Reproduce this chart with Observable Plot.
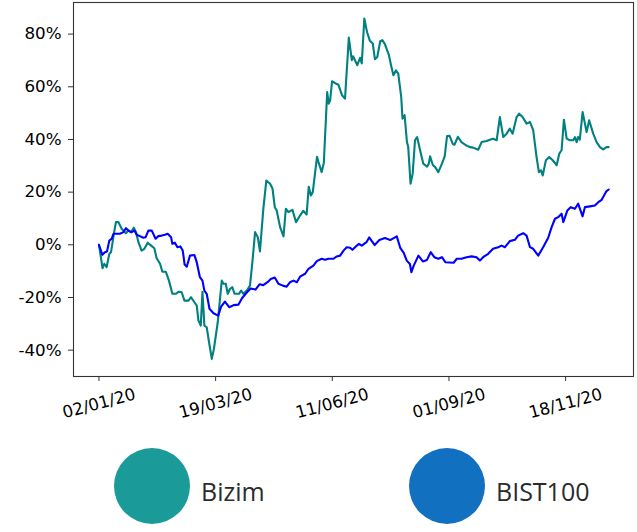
<!DOCTYPE html>
<html>
<head>
<meta charset="utf-8">
<script src="https://cdn.jsdelivr.net/npm/d3@7"></script>
<script src="https://cdn.jsdelivr.net/npm/@observablehq/plot@0.6"></script>
<style>
  html, body { margin: 0; padding: 0; background: #fff; }
  #wrap { width: 637px; }
  #legend { display: block; }
</style>
</head>
<body>
<div id="wrap"></div>
<script>
// Series names and colours
const seriesNames = ["Bizim", "BIST100"];
const lineColors = ["#008080", "#0000ff"];
const legendColors = ["#1a9a98", "#1170bf"];

// x tick positions (trading-day index) and their labels
const tickIndex = [0, 55, 110, 165, 220];
const tickLabels = ["02/01/20", "19/03/20", "11/06/20", "01/09/20", "18/11/20"];
const yTicks = [-40, -20, 0, 20, 40, 60, 80];

// [trading-day index, cumulative return %]
const bizim = [
  [0,0],[1.7,-8.9],[2.5,-7.2],[3.6,-8.5],[4.9,-3.4],[5.7,-2.8],[6.9,3.5],[8.0,8.6],[9.2,8.6],
  [10.7,6.1],[12.7,4.4],[13.9,5.4],[15.1,4.8],[16.4,6.5],[17.5,4.8],[18.6,1.0],[20.1,-2.2],
  [21.4,-1.5],[23.0,0.8],[24.9,-0.5],[26.1,-1.3],[27.2,-5.1],[28.8,-7.2],[29.9,-10.2],[31.5,-10.2],
  [33.0,-13.6],[34.6,-18.6],[36.2,-18.6],[37.7,-17.8],[39.0,-18.0],[40.3,-21.2],[42.2,-21.2],
  [43.4,-19.9],[45.0,-21.8],[46.1,-23.1],[46.9,-28.8],[48.0,-30.7],[48.8,-17.8],[49.7,-30.7],
  [50.8,-31.3],[51.9,-37.0],[53.2,-43.3],[54.2,-39.5],[56.0,-29.4],[57.9,-13.6],[58.7,-14.8],
  [59.8,-14.8],[60.7,-18.6],[61.8,-16.7],[62.9,-16.1],[63.9,-18.6],[66.0,-18.6],[67.0,-17.4],
  [68.1,-18.6],[69.7,-17.4],[71.2,-15.5],[72.4,-6.0],[73.6,4.8],[74.9,2.9],[75.9,-2.5],
  [77.5,13.7],[78.9,24.4],[80.7,23.2],[81.8,21.4],[82.9,14.3],[83.8,13.0],[85.4,6.7],[87.0,3.2],
  [88.1,13.7],[89.3,12.4],[91.2,13.3],[92.9,8.6],[94.8,11.1],[96.3,12.9],[97.9,11.5],[98.9,22.0],
  [99.9,18.7],[100.8,20.0],[102.8,33.4],[103.5,31.4],[105.0,27.6],[106.0,31.1],[107.6,58.0],
  [108.3,53.6],[109.0,54.9],[109.9,62.1],[111.9,61.1],[112.8,60.9],[114.6,56.8],[116.0,55.5],
  [117.8,78.7],[119.2,70.1],[119.8,71.6],[121.8,68.2],[123.1,71.0],[123.9,68.9],[125.1,85.9],
  [126.4,80.7],[127.7,77.5],[129.1,76.4],[130.1,70.5],[131.2,71.3],[132.6,77.3],[133.6,77.7],
  [134.8,76.2],[136.7,72.0],[137.7,68.2],[138.8,64.4],[140.0,66.2],[141.1,65.0],[142.5,56.1],
  [143.1,47.9],[144.1,49.2],[145.2,39.0],[145.8,37.1],[146.9,23.2],[147.9,27.0],[149.0,39.7],
  [150.0,40.9],[151.4,35.9],[152.9,30.8],[154.7,29.7],[155.5,30.8],[156.1,33.6],[157.4,30.3],
  [158.5,29.5],[160.0,27.6],[161.7,30.8],[163.0,33.6],[164.1,41.3],[165.3,41.4],[166.8,38.3],
  [167.6,38.0],[169.2,41.0],[170.9,39.0],[173.0,37.8],[174.9,37.1],[176.4,36.9],[178.8,36.1],
  [180.4,39.0],[182.7,39.4],[184.3,39.9],[185.8,40.3],[187.5,39.7],[189.0,48.5],[190.6,40.9],
  [192.2,42.2],[193.7,44.1],[195.0,42.2],[196.9,48.5],[198.1,49.8],[199.7,48.5],[201.6,46.0],
  [203.2,46.6],[204.7,43.5],[206.3,33.3],[207.4,27.6],[208.4,28.3],[209.2,26.3],[210.7,32.1],
  [212.3,33.3],[213.9,32.1],[215.8,30.2],[217.0,34.6],[218.1,35.9],[219.2,47.5],[220.5,40.3],
  [222.0,39.7],[223.6,39.7],[224.4,40.9],[225.2,39.0],[225.9,40.9],[226.7,39.9],[228.0,50.4],
  [229.9,42.8],[231.1,47.3],[233.0,42.2],[234.6,39.0],[236.2,37.1],[237.7,36.2],[239.3,37.1],
  [240.3,37.1]
];

const bist100 = [
  [0,0],[1.6,-3.8],[2.8,-2.8],[3.8,-2.5],[4.9,1.6],[6.0,2.3],[6.9,4.2],[8.3,4.2],[9.9,4.2],
  [11.5,4.8],[12.7,6.3],[14.2,5.2],[15.4,4.8],[16.7,5.4],[17.8,3.8],[19.3,3.3],[20.9,2.7],
  [22.0,2.9],[23.3,5.4],[24.9,5.4],[26.7,2.3],[28.0,3.3],[29.6,3.5],[31.1,3.8],[32.4,4.2],
  [34.0,2.9],[34.6,0.4],[35.8,0.8],[37.0,-0.9],[38.4,-0.6],[39.5,-2.2],[40.4,-7.5],[41.4,-8.3],
  [42.9,-4.1],[45.0,-3.9],[46.1,-6.6],[47.6,-12.3],[48.8,-13.6],[49.7,-17.4],[50.8,-18.6],
  [52.1,-24.3],[54.0,-26.0],[56.2,-26.9],[57.6,-23.5],[59.4,-21.6],[61.4,-23.7],[63.5,-22.9],
  [65.8,-22.7],[67.5,-20.2],[69.9,-17.9],[71.5,-16.6],[73.8,-17.0],[75.7,-15.0],[77.5,-15.3],
  [79.6,-14.1],[81.0,-13.0],[82.9,-12.4],[84.6,-14.8],[86.7,-15.5],[88.5,-15.9],[90.1,-14.2],
  [91.7,-13.6],[93.3,-14.2],[94.8,-12.1],[97.2,-11.0],[98.8,-9.1],[101.1,-7.9],[102.7,-6.2],
  [105.0,-5.3],[106.6,-5.7],[108.2,-5.3],[110.6,-5.3],[112.1,-4.4],[113.7,-4.1],[115.3,-2.2],
  [116.8,-0.9],[118.4,-1.1],[119.5,-1.9],[121.6,-0.3],[122.6,0.4],[123.9,-0.3],[126.1,1.0],
  [127.4,2.8],[128.9,1.1],[130.0,-0.1],[132.2,1.8],[134.8,2.6],[137.3,1.8],[140.4,3.2],
  [142.1,-1.3],[143.7,-3.1],[145.1,-6.0],[146.6,-7.3],[147.3,-10.4],[148.4,-7.9],[150.6,-4.1],
  [152.7,-6.3],[154.6,-5.8],[156.4,-2.8],[158.1,-4.7],[160.0,-5.3],[161.7,-4.7],[163.3,-6.6],
  [165.2,-6.7],[167.2,-6.8],[168.7,-5.3],[170.9,-5.3],[173.3,-4.7],[175.7,-4.4],[178.0,-4.7],
  [179.6,-6.0],[181.1,-4.7],[183.5,-3.4],[185.8,-1.5],[188.2,-0.9],[189.8,-0.3],[191.4,-0.9],
  [193.7,1.4],[196.1,1.9],[197.6,3.5],[200.0,4.4],[201.6,3.5],[203.2,-0.9],[204.7,-1.5],
  [207.1,-4.1],[209.4,-0.9],[211.8,2.7],[213.4,6.7],[215.0,9.9],[216.5,10.5],[218.1,11.8],
  [218.9,8.6],[220.8,13.0],[222.4,14.3],[224.4,13.7],[225.9,15.6],[228.0,10.8],[229.1,14.3],
  [231.5,14.6],[233.8,14.9],[235.4,16.2],[237.0,17.1],[238.1,18.7],[239.3,20.4],[240.3,21.0]
];

const font = "'DejaVu Sans', sans-serif";

const chart = Plot.plot({
  width: 637,
  height: 440,
  marginLeft: 73,
  marginRight: 4,
  marginTop: 2,
  marginBottom: 64,
  style: { fontFamily: font, fontSize: "16.7px", color: "black", background: "white", overflow: "visible" },
  x: { domain: [-12, 252] },
  y: { domain: [-50, 92] },
  marks: [
    Plot.line(bizim, { x: d => d[0], y: d => d[1], stroke: lineColors[0], strokeWidth: 2.1 }),
    Plot.line(bist100, { x: d => d[0], y: d => d[1], stroke: lineColors[1], strokeWidth: 2.1 }),
    Plot.frame({ stroke: "#333", strokeWidth: 1.1 }),
    Plot.axisY(yTicks, {
      tickFormat: d => d + "%", tickSize: 5, tickPadding: 7, label: null,
      fontSize: 16.7, fontFamily: font, stroke: "#333", fill: "black"
    }),
    Plot.axisX(tickIndex, { tickFormat: () => "", tickSize: 5, label: null, stroke: "#333" }),
    Plot.text(tickIndex, {
      x: d => d, text: (d, i) => tickLabels[i], frameAnchor: "bottom",
      dy: 27, rotate: -15, textAnchor: "middle", lineAnchor: "middle",
      fontSize: 16.7, fontFamily: font, fill: "black"
    })
  ]
});

const wrap = document.getElementById("wrap");
wrap.appendChild(chart);

// Legend below the chart
const legendX = [152, 447];
const legend = d3.create("svg")
  .attr("id", "legend")
  .attr("width", 637)
  .attr("height", 92);
seriesNames.forEach((name, i) => {
  legend.append("circle")
    .attr("cx", legendX[i]).attr("cy", 46).attr("r", 38)
    .attr("fill", legendColors[i]);
  legend.append("text")
    .attr("x", legendX[i] + 49).attr("y", 61)
    .attr("font-family", "'Open Sans', sans-serif")
    .attr("font-size", 25)
    .attr("fill", "#2b2b2b")
    .text(name);
});
wrap.appendChild(legend.node());
</script>
</body>
</html>
